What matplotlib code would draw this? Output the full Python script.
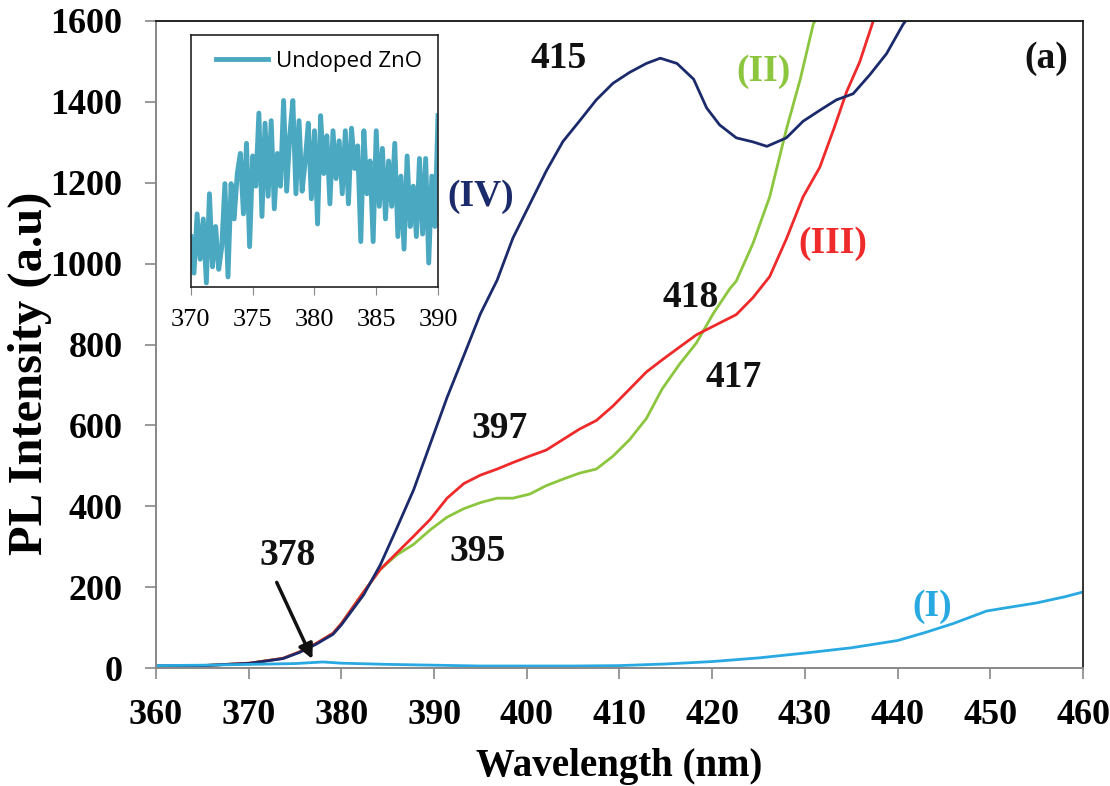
import matplotlib.pyplot as plt

# curve (I) undoped
wl_1 = [360, 365, 370, 375, 378, 380, 385, 390, 395, 400, 405, 410, 415, 420, 425, 430, 435, 440, 443, 446, 449.6, 452, 455, 458, 460]
pl_1 = [6, 7, 9, 11, 15, 12, 9, 7, 5, 5, 5, 6, 10, 16, 25, 37, 50, 68, 88, 110, 141, 150, 161, 176, 188]

# curves II, III, IV share the low-wavelength part
wl_low = [360, 365, 370.1, 373.7, 375.5, 377.3, 379.1, 380]
pl_low = [5, 6, 12, 24, 40, 61, 86, 110]

wl_4 = [382.4, 384.2, 386.0, 387.8, 389.6, 391.4, 393.2, 395.0, 396.8, 398.5, 400.3, 402.1,
        403.9, 405.7, 407.5, 409.3, 411.1, 412.9, 414.4, 416.2, 418.0, 419.4, 420.8, 422.6,
        424.4, 425.9, 428.0, 429.8, 431.6, 433.4, 435.2, 437.0, 438.8, 440.6, 441.2]
pl_4 = [181, 255, 347, 441, 555, 669, 772, 876, 959, 1063, 1146, 1229,
        1302, 1353, 1405, 1446, 1473, 1495, 1508, 1495, 1456, 1385, 1343, 1311,
        1301, 1290, 1311, 1352, 1379, 1405, 1420, 1467, 1519, 1592, 1610]

wl_3 = [382.4, 384.2, 386.0, 387.8, 389.6, 391.4, 393.2, 395.0, 396.8, 398.5, 400.3, 402.1,
        403.9, 405.7, 407.5, 409.3, 411.1, 412.9, 414.6, 416.5, 418.3, 420.1, 422.6, 424.4,
        426.2, 428.0, 429.8, 431.6, 433.1, 434.5, 435.9, 437.4, 437.8]
pl_3 = [188, 244, 285, 326, 368, 420, 456, 477, 492, 508, 524, 539,
        565, 591, 612, 648, 690, 732, 762, 794, 824, 845, 874, 916,
        968, 1061, 1165, 1238, 1332, 1425, 1498, 1602, 1610]

wl_2 = [382.4, 384.2, 386.0, 387.8, 389.6, 391.4, 393.2, 395.0, 396.8, 398.5, 400.3, 402.1,
        403.9, 405.7, 407.5, 409.3, 411.1, 412.9, 414.6, 416.5, 418.3, 420.1, 421.9, 422.6,
        424.4, 426.2, 428.0, 429.5, 430.9, 431.3]
pl_2 = [188, 244, 280, 306, 342, 373, 394, 409, 420, 420, 430, 451,
        467, 482, 492, 524, 565, 617, 690, 752, 804, 876, 938, 957,
        1050, 1165, 1332, 1456, 1592, 1610]

# inset: undoped ZnO (arbitrary units)
wl_in = [370 + 0.25 * i for i in range(81)]
pl_in = [20, 5.5, 29, 11, 27, 1.6, 37, 8, 24, 7, 16, 41, 4, 41, 27, 45, 53, 29, 57, 16,
         52, 40, 69, 28, 65, 36, 66, 31, 53, 40, 74, 38, 60, 74, 37, 66, 38, 50, 65, 35,
         62, 25, 68, 45, 60, 33, 62, 43, 58, 37, 62, 33, 63, 47, 56, 18, 62, 37, 50, 18,
         62, 32, 55, 27, 50, 32, 57, 20, 44, 15, 52, 24, 40, 20, 51, 21, 51, 9.5, 44, 24, 68]

c1, c2, c3, c4 = '#29a9e1', '#8cc63f', '#ee2a2a', '#1b2a6b'

fig = plt.figure(figsize=(11.1, 7.86), dpi=100)
ax = fig.add_axes([0.1405, 0.1501, 0.8352, 0.8232])

ax.plot(wl_low + wl_2, pl_low + pl_2, color=c2, lw=2)
ax.plot(wl_low + wl_3, pl_low + pl_3, color=c3, lw=2)
ax.plot(wl_low + wl_4, [v * 0.97 for v in pl_low] + pl_4, color=c4, lw=2)
ax.plot(wl_1, pl_1, color=c1, lw=2)

ax.set_xlim(360, 460)
ax.set_ylim(0, 1600)
ax.set_xticks(range(360, 461, 10))
ax.set_yticks(range(0, 1601, 200))

serif = 'Liberation Serif'
for lab in ax.get_xticklabels() + ax.get_yticklabels():
    lab.set_fontfamily(serif)
    lab.set_fontweight('bold')
    lab.set_fontsize(26)

ax.tick_params(axis='both', direction='out', length=8, width=1.2, color='#888888')
ax.tick_params(axis='x', pad=14)
ax.tick_params(axis='y', pad=16)
ax.spines['left'].set_color('#888888')
ax.spines['bottom'].set_color('#888888')
ax.spines['top'].set_color('#222222')
ax.spines['right'].set_color('#333333')
for s in ax.spines.values():
    s.set_linewidth(1.4)

ax.set_xlabel('Wavelength (nm)', fontfamily=serif, fontweight='bold', fontsize=28, labelpad=12)
ax.set_ylabel('PL Intensity (a.u)', fontfamily=serif, fontweight='bold', fontsize=35)
ax.yaxis.set_label_coords(-0.112, 0.456)

# annotations
kw = dict(fontfamily=serif, fontweight='bold', fontsize=27, ha='center', va='center')
ax.text(374.2, 279, '378', color='#111111', **kw)
ax.text(394.7, 288, '395', color='#111111', **kw)
ax.text(397.1, 593, '397', color='#111111', **kw)
ax.text(417.7, 916, '418', color='#111111', **kw)
ax.text(422.3, 718, '417', color='#111111', **kw)
ax.text(403.4, 1508, '415', color='#111111', **kw)
ax.text(456.0, 1508, '(a)', color='#111111', **kw)
ax.text(395.0, 1165, '(IV)', color=c4, **kw)
ax.text(425.5, 1474, '(II)', color=c2, **kw)
ax.text(433.0, 1051, '(III)', color=c3, **kw)
ax.text(443.7, 151, '(I)', color=c1, **kw)
ax.annotate('', xy=(377.0, 16), xytext=(372.9, 218),
            arrowprops=dict(arrowstyle='-|>', color='#111111', lw=2.5, mutation_scale=22))

# inset
axi = fig.add_axes([0.172, 0.6349, 0.2226, 0.3206])
axi.plot(wl_in, pl_in, color='#4aa8c0', lw=3.5, label='Undoped ZnO')
axi.set_xlim(370, 390)
axi.set_ylim(0, 100)
axi.set_xticks(range(370, 391, 5))
axi.set_yticks([])
for lab in axi.get_xticklabels():
    lab.set_fontfamily(serif)
    lab.set_fontsize(19)
axi.tick_params(axis='x', direction='out', length=6, color='#888888', pad=10)
for s in axi.spines.values():
    s.set_color('#222222')
    s.set_linewidth(1.2)
leg = axi.legend(loc='upper right', frameon=False, prop={'family': 'Open Sans', 'size': 16},
                 handlelength=2.3, borderaxespad=0.3, handletextpad=0.4)

fig.savefig('out.png', dpi=100)
